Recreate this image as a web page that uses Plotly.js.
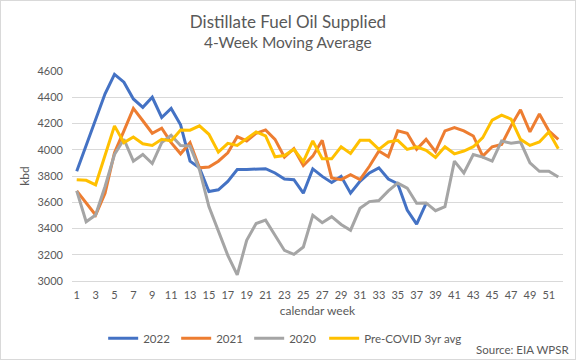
<!DOCTYPE html>
<html>
<head>
<meta charset="utf-8">
<script src="https://cdn.plot.ly/plotly-3.0.1.min.js"></script>
<style>
html,body{margin:0;padding:0;background:#fff;}
#chart{width:576px;height:360px;box-sizing:border-box;border:1px solid #d9d9d9;}
</style>
</head>
<body>
<div id="chart"></div>
<script>
const weeks = Array.from({length: 52}, (_, i) => i + 1);
const tickWeeks = [1,3,5,7,9,11,13,15,17,19,21,23,25,27,29,31,33,35,37,39,41,43,45,47,49,51];

const y2022 = [3836,4030,4225,4426,4574,4515,4387,4323,4400,4246,4315,4190,3913,3862,3682,3695,3759,3849,3849,3854,3856,3823,3777,3772,3669,3854,3797,3751,3797,3669,3759,3823,3862,3777,3741,3541,3433,3592];
const y2021 = [3687,3592,3503,3669,3977,4144,4315,4221,4126,4164,4054,3969,4054,3862,3869,3913,3977,4100,4067,4126,4151,4079,3944,4008,3879,3951,4072,3785,3772,3810,3772,3874,3990,3946,4144,4126,4003,4079,3985,4144,4169,4144,4105,3951,4023,4041,4182,4305,4136,4272,4144,4079];
const y2020 = [3687,3451,3503,3720,3964,4080,3913,3964,3895,4054,4110,4033,4028,3849,3567,3387,3195,3046,3310,3438,3464,3349,3233,3203,3259,3500,3444,3490,3431,3387,3554,3605,3613,3687,3746,3708,3592,3595,3536,3567,3913,3823,3964,3944,3913,4067,4049,4059,3900,3836,3836,3792];
const yPre = [3772,3767,3733,3964,4182,4054,4097,4046,4033,4080,4067,4151,4149,4182,4118,3982,4049,4033,4087,4136,4105,3946,3956,4003,3910,4067,3931,3931,4023,3972,4072,4072,4003,4059,4072,4003,4023,3995,3942,4023,3969,3990,4023,4092,4226,4264,4233,4079,4033,4059,4136,4008];

const names = ['2022','2021','2020','Pre-COVID 3yr avg'];
const colors = ['#4472C4','#ED7D31','#A5A5A5','#FFC000'];
const series = [y2022, y2021, y2020, yPre];
const legendIds = ['legend','legend','legend','legend2'];

const font = 'Lato, "Open Sans", sans-serif';
const traces = series.map((s, i) => ({
  x: weeks.slice(0, s.length),
  y: s,
  type: 'scatter',
  mode: 'lines',
  name: names[i],
  legend: legendIds[i],
  line: {color: colors[i], width: 3}
}));

const legendCommon = {
  orientation: 'h', xref: 'container', yref: 'container',
  xanchor: 'left', y: 0.058, yanchor: 'middle',
  font: {size: 11.5, color: '#595959'}, itemwidth: 30, traceorder: 'normal'
};

const layout = {
  width: 574, height: 358,
  margin: {l: 71, r: 12, t: 70, b: 78, autoexpand: false},
  paper_bgcolor: '#fff', plot_bgcolor: '#fff',
  font: {family: font, color: '#595959', size: 11},
  title: {
    text: 'Distillate Fuel Oil Supplied',
    font: {family: font, size: 17, color: '#595959'},
    x: 0.5, xanchor: 'center', xref: 'container',
    y: 0.941, yanchor: 'middle', yref: 'container'
  },
  xaxis: {
    range: [0.5, 52.5],
    tickmode: 'array', tickvals: tickWeeks, ticktext: tickWeeks.map(String),
    showgrid: false, zeroline: false,
    showline: true, linecolor: '#d9d9d9', linewidth: 1,
    ticks: '', ticklabelstandoff: 4, tickfont: {size: 11, color: '#595959'},
    title: {text: 'calendar week', font: {size: 12, color: '#595959'}, standoff: 6}
  },
  yaxis: {
    range: [3000, 4600], dtick: 200,
    showgrid: true, gridcolor: '#d9d9d9', gridwidth: 1,
    zeroline: false, showline: false, ticks: '', ticklabelstandoff: 8,
    tickfont: {size: 11, color: '#595959'},
    title: {text: 'kbd', font: {size: 12, color: '#595959'}, standoff: 5}
  },
  showlegend: true,
  legend: Object.assign({}, legendCommon, {x: 0.178, entrywidth: 28, entrywidthmode: 'pixels'}),
  legend2: Object.assign({}, legendCommon, {x: 0.563}),
  annotations: [{
    text: '4-Week Moving Average', xref: 'paper', yref: 'paper',
    x: 0.44, xanchor: 'center', y: 1.138, yanchor: 'middle',
    showarrow: false, font: {size: 15.5, color: '#595959'}
  }, {
    text: 'Source: EIA WPSR', xref: 'paper', yref: 'paper',
    x: 1.016, xanchor: 'right', y: -0.324, yanchor: 'middle',
    showarrow: false, font: {size: 11.5, color: '#595959'}
  }]
};

Plotly.newPlot('chart', traces, layout, {displayModeBar: false, staticPlot: true});
</script>
</body>
</html>
